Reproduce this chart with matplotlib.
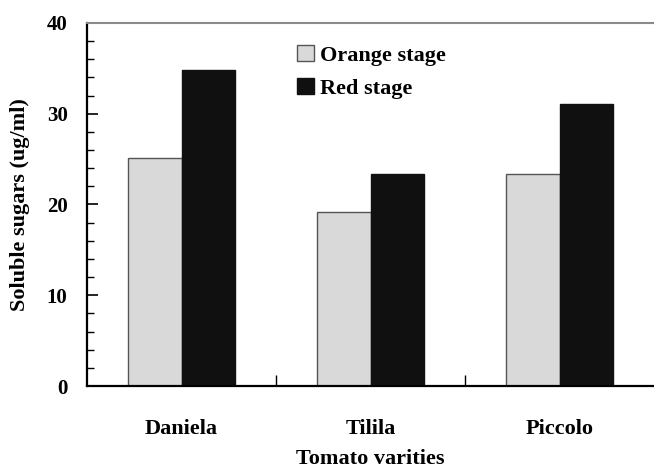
import matplotlib
matplotlib.use("Agg")
import matplotlib.pyplot as plt
import numpy as np
from matplotlib.ticker import MultipleLocator, FixedLocator

plt.rcParams['font.family'] = ['Liberation Serif', 'DejaVu Serif']
plt.rcParams['font.weight'] = 'bold'

categories = ["Daniela", "Tilila", "Piccolo"]
series_names = ["Orange stage", "Red stage"]
orange_stage = [25.1, 19.2, 23.4]
red_stage = [34.8, 23.4, 31.1]
y_ticks = [0, 10, 20, 30, 40]
x_label = "Tomato varities"
y_label = "Soluble sugars (ug/ml)"

W, H = 654, 470
fig = plt.figure(figsize=(W / 100, H / 100), dpi=100)
ax = fig.add_axes([87 / W, 1 - 386 / H, (654 - 87) / W, (386 - 23) / H])

x = np.arange(len(categories))
bw = 0.285
ax.bar(x - bw / 2, orange_stage, bw, color="#d9d9d9", edgecolor="#555555",
       linewidth=1.0, label=series_names[0])
ax.bar(x + bw / 2, red_stage, bw, color="#101010", edgecolor="#101010",
       linewidth=1.0, label=series_names[1])

ax.set_xlim(-0.5, 2.5)
ax.set_ylim(0, 40)
ax.set_yticks(y_ticks)
ax.yaxis.set_minor_locator(MultipleLocator(2))
ax.set_xticks(x)
ax.set_xticklabels(categories)
ax.xaxis.set_minor_locator(FixedLocator([0.5, 1.5]))

ax.tick_params(axis='y', which='major', direction='in', length=8, width=1.2,
               labelsize=15, pad=14)
ax.tick_params(axis='y', which='minor', direction='in', length=5, width=1.0)
ax.tick_params(axis='x', which='major', length=0, labelsize=16, pad=24)
ax.tick_params(axis='x', which='minor', direction='in', length=8, width=1.0)

for lab in ax.get_xticklabels() + ax.get_yticklabels():
    lab.set_fontweight('bold')

ax.spines['left'].set_linewidth(1.6)
ax.spines['bottom'].set_linewidth(1.6)
ax.spines['top'].set_color('#8a8a8a')
ax.spines['top'].set_linewidth(1.5)
ax.spines['right'].set_visible(False)

ax.set_ylabel(y_label, fontsize=16, fontweight='bold', labelpad=12)
ax.set_xlabel(x_label, fontsize=16, fontweight='bold', labelpad=7)

leg = ax.legend(loc='upper left', bbox_to_anchor=(297 / W, 1 - 45 / H),
                bbox_transform=fig.transFigure, frameon=False,
                handlelength=0.75, handleheight=0.75, handletextpad=0.3,
                labelspacing=0.55, borderpad=0, borderaxespad=0,
                prop={'family': 'Liberation Serif', 'weight': 'bold', 'size': 16})

fig.savefig("out.png", dpi=100)
